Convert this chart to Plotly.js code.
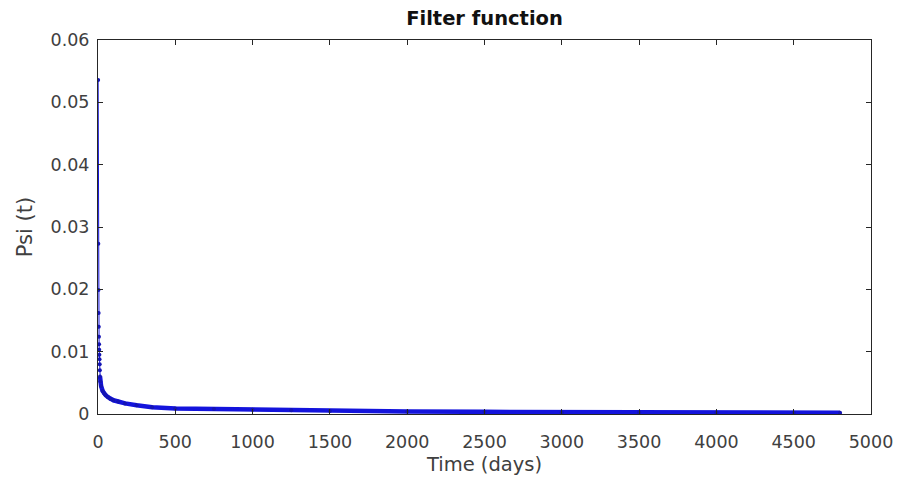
<!DOCTYPE html>
<html>
<head>
<meta charset="utf-8">
<script src="https://cdn.plot.ly/plotly-3.0.1.min.js"></script>
<style>html,body{margin:0;padding:0;background:#fff;}#chart{width:897px;height:488px;}</style>
</head>
<body>
<div id="chart"></div>
<script>
// Time in days and filter value Psi(t)
const days = [1, 2, 3, 4, 5, 6, 7, 8, 9, 10, 11, 12, 13, 15, 20, 30, 40, 50, 65, 80, 100, 130, 175, 250, 350, 500, 750, 1000, 1250, 1500, 2000, 2500, 3000, 3500, 4000, 4500, 4800];
const psi = [0.0536, 0.0273, 0.0199, 0.0162, 0.0140, 0.0124, 0.0112, 0.0103, 0.0095, 0.0088, 0.0080, 0.0070, 0.0060, 0.0052, 0.0045, 0.0037, 0.0033, 0.0030, 0.0027, 0.0024, 0.0022, 0.0020, 0.0017, 0.0014, 0.0011, 0.0009, 0.0008, 0.0007, 0.0006, 0.0005, 0.0004, 0.00035, 0.0003, 0.00028, 0.00025, 0.00022, 0.0002];
const xTicks = [0, 500, 1000, 1500, 2000, 2500, 3000, 3500, 4000, 4500, 5000];
const yTicks = [0, 0.01, 0.02, 0.03, 0.04, 0.05, 0.06];
const yTickText = ['0', '0.01', '0.02', '0.03', '0.04', '0.05', '0.06'];

const bandStart = 12;
const traces = [
  {
    x: days.slice(bandStart), y: psi.slice(bandStart),
    type: 'scatter', mode: 'lines',
    line: {color: 'rgb(20,20,220)', width: 4.5},
    hoverinfo: 'skip'
  },
  {
    x: days, y: psi,
    type: 'scatter', mode: 'lines+markers',
    line: {color: 'rgb(20,20,220)', width: 1},
    marker: {color: 'rgb(20,20,180)', size: 4}
  }
];

const fam = 'DejaVu Sans, Verdana, sans-serif';
const axisFont = {family: fam, size: 17.5, color: '#404040'};
const layout = {
  width: 897, height: 488,
  margin: {l: 98, r: 26, t: 40, b: 74},
  paper_bgcolor: '#fff', plot_bgcolor: '#fff',
  showlegend: false,
  title: {text: '<b>Filter function</b>', xref: 'paper', x: 0.5, xanchor: 'center',
          yref: 'container', y: 0.963, yanchor: 'middle',
          font: {family: fam, size: 19.5, color: '#111'}},
  xaxis: {
    range: [0, 5000], tickvals: xTicks, ticktext: xTicks.map(String),
    ticks: 'inside', ticklen: 5, tickcolor: '#262626', showline: true, linecolor: '#262626', linewidth: 1,
    mirror: 'ticks', showgrid: false, zeroline: false, tickfont: axisFont, ticklabelstandoff: 12,
    title: {text: 'Time (days)', font: {family: fam, size: 19.5, color: '#404040'}, standoff: 6}
  },
  yaxis: {
    range: [0, 0.06], tickvals: yTicks, ticktext: yTickText,
    ticks: 'inside', ticklen: 5, tickcolor: '#262626', showline: true, linecolor: '#262626', linewidth: 1,
    mirror: 'ticks', showgrid: false, zeroline: false, tickfont: axisFont, ticklabelstandoff: 4,
    title: {text: 'Psi (t)', font: {family: fam, size: 21, color: '#404040'}, standoff: 12}
  }
};
Plotly.newPlot('chart', traces, layout, {staticPlot: true, displayModeBar: false});
</script>
</body>
</html>
